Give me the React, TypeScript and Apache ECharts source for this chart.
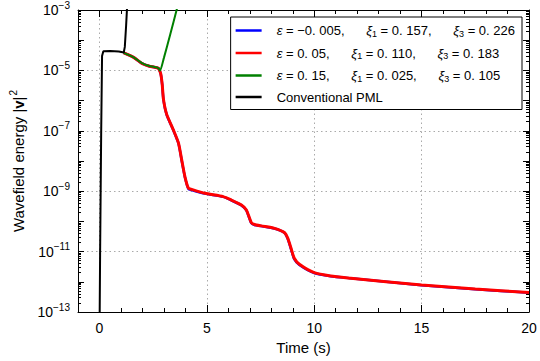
import React, { useEffect, useRef } from "react";
import * as echarts from "echarts";

// Conventional PML
const blackData: [number, number][] = [
  [0.0, 1e-14], [0.03, 1e-11], [0.08, 1e-7], [0.12, 3e-5], [0.18, 4.3e-5],
  [0.5, 4.4e-5], [0.9, 4.2e-5], [1.13, 3.9e-5], [1.18, 6e-5], [1.24, 3e-4], [1.3, 2e-3],
];

// eps = 0.15
const greenData: [number, number][] = [
  [1.13, 3.8e-5], [1.59, 2.7e-5], [1.98, 1.75e-5], [2.29, 1.42e-5], [2.67, 1.25e-5],
  [2.75, 1.18e-5], [2.82, 9.8e-6], [3.0, 2.6e-5], [3.3, 1.6e-4], [3.6, 1.05e-3], [3.7, 1.9e-3],
];

// eps = 0.05
const redData: [number, number][] = [
  [1.13, 3.8e-5], [1.59, 2.7e-5], [1.98, 1.7e-5], [2.29, 1.4e-5], [2.67, 1.23e-5],
  [2.75, 1.17e-5], [2.85, 7.9e-6], [2.92, 3.5e-6], [2.98, 1.1e-6], [3.13, 3.5e-7],
  [3.44, 1.07e-7], [3.68, 3.9e-8], [3.83, 1.07e-8], [3.98, 3.0e-9], [4.14, 1.26e-9],
  [4.29, 1.15e-9], [4.91, 8.5e-10], [5.76, 6.6e-10], [6.14, 5.1e-10], [6.61, 3.5e-10],
  [6.84, 2.4e-10], [7.07, 9.1e-11], [7.22, 7.9e-11], [7.53, 7.1e-11], [8.15, 5.9e-11],
  [8.61, 4.3e-11], [8.77, 2.75e-11], [8.92, 1.29e-11], [9.07, 6.0e-12], [9.31, 3.8e-12],
  [10.0, 2.0e-12], [10.77, 1.55e-12], [11.7, 1.32e-12], [15.0, 7.8e-13], [17.5, 5.8e-13],
  [20.0, 4.4e-13],
];

// eps = -0.005
const blueData: [number, number][] = [
  [1.13, 3.8e-5], [1.59, 2.7e-5], [1.98, 1.7e-5], [2.29, 1.4e-5], [2.67, 1.22e-5],
  [2.75, 1.16e-5], [2.85, 7.7e-6], [2.92, 3.4e-6], [2.98, 1.05e-6], [3.13, 3.4e-7],
  [3.44, 1.04e-7], [3.68, 3.8e-8], [3.83, 1.02e-8], [3.98, 2.9e-9], [4.14, 1.2e-9],
  [4.29, 1.1e-9], [4.91, 8.3e-10], [5.76, 6.5e-10], [6.14, 5.0e-10], [6.61, 3.4e-10],
  [6.84, 2.3e-10], [7.07, 8.7e-11], [7.22, 7.6e-11], [7.53, 7.0e-11], [8.15, 5.8e-11],
  [8.61, 4.2e-11], [8.77, 2.6e-11], [8.92, 1.2e-11], [9.07, 5.6e-12], [9.31, 3.6e-12],
  [10.0, 1.95e-12], [10.77, 1.53e-12], [11.7, 1.31e-12], [15.0, 7.7e-13], [17.5, 5.7e-13],
  [20.0, 4.35e-13],
];

const seriesNames = [
  "ε = −0.005, ξ1 = 0.157, ξ3 = 0.226",
  "ε = 0.05, ξ1 = 0.110, ξ3 = 0.183",
  "ε = 0.15, ξ1 = 0.025, ξ3 = 0.105",
  "Conventional PML",
];
const legendRich: Record<string, string> = {
  [seriesNames[0]]: "{it|ε}{n| = −0. 005,      }{it|ξ}{sub|1}{n| = 0. 157,      }{it|ξ}{sub|3}{n| = 0. 226}",
  [seriesNames[1]]: "{it|ε}{n| = 0. 05,      }{it|ξ}{sub|1}{n| = 0. 110,      }{it|ξ}{sub|3}{n| = 0. 183}",
  [seriesNames[2]]: "{it|ε}{n| = 0. 15,      }{it|ξ}{sub|1}{n| = 0. 025,      }{it|ξ}{sub|3}{n| = 0. 105}",
  [seriesNames[3]]: "{n|Conventional PML}",
};

const FONT = "Liberation Sans, Arial, sans-serif";

export default function App() {
  const ref = useRef<HTMLDivElement>(null);
  useEffect(() => {
    if (!ref.current) return;
    const chart = echarts.init(ref.current, undefined, { renderer: "svg" });
    const axisLineStyle = { color: "#000", width: 1 };
    const yBase = {
      type: "log" as const,
      logBase: 10,
      min: 1e-13,
      max: 1e-3,
    };
    const gridLine = { show: true, lineStyle: { color: "#aaa", type: [1.5, 3], width: 1 } };
    chart.setOption({
      animation: false,
      backgroundColor: "#fff",
      textStyle: { fontFamily: FONT },
      grid: { left: 75, right: 11, top: 10, bottom: 49 },
      xAxis: [
        {
          type: "value",
          min: -1,
          max: 20,
          splitNumber: 4,
          name: "Time (s)",
          nameLocation: "middle",
          nameGap: 27,
          nameTextStyle: { fontSize: 15, color: "#000", fontFamily: FONT },
          axisLine: { show: true, onZero: false, lineStyle: axisLineStyle },
          axisTick: { show: true, inside: true, length: 7, lineStyle: axisLineStyle },
          minorTick: { show: true, splitNumber: 5, length: 4, lineStyle: axisLineStyle },
          axisLabel: {
            color: "#000",
            fontSize: 14,
            margin: 9,
            fontFamily: FONT,
            formatter: (v: number) => (v < 0 ? "" : String(v)),
          },
          splitLine: gridLine,
        },
        {
          type: "value",
          position: "top",
          min: -1,
          max: 20,
          splitNumber: 4,
          axisLine: { show: true, onZero: false, lineStyle: axisLineStyle },
          axisTick: { show: true, inside: true, length: 7, lineStyle: axisLineStyle },
          minorTick: { show: true, splitNumber: 5, length: 4, lineStyle: axisLineStyle },
          axisLabel: { show: false },
          splitLine: { show: false },
        },
      ],
      yAxis: [
        {
          ...yBase,
          position: "left",
          interval: 1,
          name: "Wavefield energy |{bv|v}|{sup|2}",
          nameLocation: "middle",
          nameRotate: 90,
          nameGap: 50,
          nameTextStyle: {
            fontSize: 15,
            color: "#000",
            fontFamily: FONT,
            rich: {
              bv: { fontSize: 15, fontWeight: "bold", color: "#000", fontFamily: FONT },
              sup: { fontSize: 10, color: "#000", padding: [0, 0, 10, 1], fontFamily: FONT },
            },
          },
          axisLine: { show: true, onZero: false, lineStyle: axisLineStyle },
          axisTick: { show: true, inside: true, length: 6, lineStyle: axisLineStyle },
          minorTick: { show: true, splitNumber: 9, length: 3, lineStyle: axisLineStyle },
          axisLabel: {
            color: "#000",
            margin: 8,
            fontFamily: FONT,
            formatter: (v: number) => {
              const e = Math.round(Math.log10(v));
              if (Math.abs(e) % 2 === 0) return "";
              return `{b|10}{s|−${-e}}`;
            },
            rich: {
              b: { fontSize: 14, color: "#000", fontFamily: FONT },
              s: { fontSize: 10, color: "#000", padding: [0, 0, 10, 0], fontFamily: FONT },
            },
          },
          splitLine: { show: false },
        },
        {
          ...yBase,
          position: "right",
          interval: 1,
          axisLine: { show: true, onZero: false, lineStyle: axisLineStyle },
          axisTick: { show: true, inside: true, length: 6, lineStyle: axisLineStyle },
          minorTick: { show: true, splitNumber: 9, length: 3, lineStyle: axisLineStyle },
          axisLabel: { show: false },
          splitLine: { show: false },
        },
        {
          ...yBase,
          position: "left",
          interval: 2,
          axisLine: { show: false, onZero: false },
          axisTick: { show: false },
          axisLabel: { show: false },
          splitLine: gridLine,
        },
      ],
      legend: {
        data: seriesNames.map((n) => ({ name: n, icon: "rect" })),
        orient: "vertical",
        right: 18,
        top: 17,
        itemWidth: 26,
        itemHeight: 2.5,
        itemGap: 7.5,
        padding: [6, 7, 6, 5],
        borderColor: "#000",
        borderWidth: 1,
        borderRadius: 0,
        backgroundColor: "#fff",
        formatter: (name: string) => legendRich[name] ?? name,
        textStyle: {
          fontSize: 13,
          color: "#000",
          fontFamily: FONT,
          padding: [0, 0, 0, 10],
          rich: {
            n: { fontSize: 13, color: "#000", fontFamily: FONT, lineHeight: 14 },
            it: { fontSize: 13, fontStyle: "italic", color: "#000", fontFamily: FONT, lineHeight: 14 },
            sub: { fontSize: 9, color: "#000", fontFamily: FONT, padding: [6, 0, 0, 0], lineHeight: 14 },
          },
        },
      },
      series: [
        { name: seriesNames[0], type: "line", data: blueData, symbol: "none", showSymbol: false, smooth: 0.2, clip: true, lineStyle: { color: "#0000ff", width: 2.5 }, itemStyle: { color: "#0000ff" }, z: 2 },
        { name: seriesNames[1], type: "line", data: redData, symbol: "none", showSymbol: false, smooth: 0.2, clip: true, lineStyle: { color: "#ff0000", width: 3 }, itemStyle: { color: "#ff0000" }, z: 3 },
        { name: seriesNames[2], type: "line", data: greenData, symbol: "none", showSymbol: false, smooth: 0.2, clip: true, lineStyle: { color: "#008000", width: 2 }, itemStyle: { color: "#008000" }, z: 4 },
        { name: seriesNames[3], type: "line", data: blackData, symbol: "none", showSymbol: false, clip: true, lineStyle: { color: "#000000", width: 2 }, itemStyle: { color: "#000000" }, z: 5 },
      ],
    });
    return () => chart.dispose();
  }, []);
  return (
    <div
      ref={ref}
      style={{ position: "fixed", left: 0, top: 0, width: 540, height: 361, background: "#fff" }}
    />
  );
}
